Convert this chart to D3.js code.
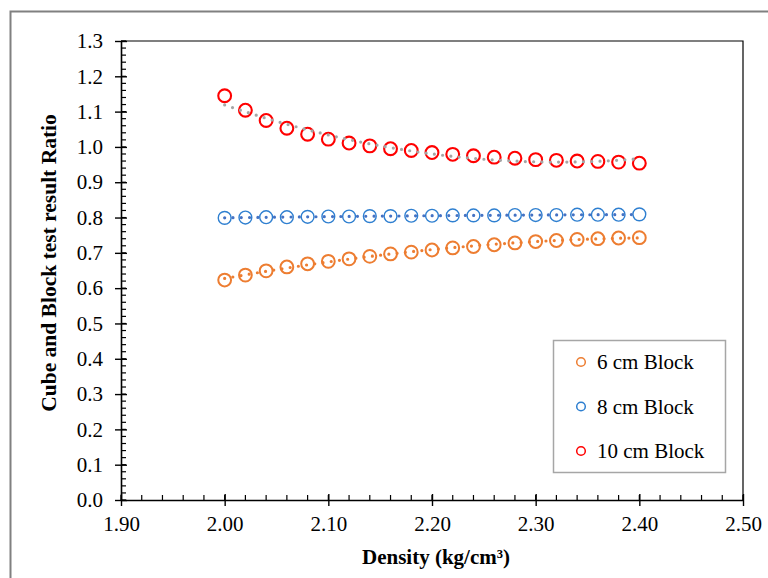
<!DOCTYPE html>
<html>
<head>
<meta charset="utf-8">
<script src="https://cdn.jsdelivr.net/npm/d3@7"></script>
<style>
  body { margin: 0; background: #fff; }
  svg { display: block; font-family: "Liberation Serif", "Times New Roman", serif; }
</style>
</head>
<body>
<div id="chart"></div>
<script>
// data
var density = [2.00, 2.02, 2.04, 2.06, 2.08, 2.10, 2.12, 2.14, 2.16, 2.18, 2.20,
               2.22, 2.24, 2.26, 2.28, 2.30, 2.32, 2.34, 2.36, 2.38, 2.40];
var block6 = [0.623, 0.637, 0.649, 0.660, 0.669, 0.676, 0.683, 0.690, 0.697, 0.702, 0.708,
              0.714, 0.718, 0.723, 0.728, 0.732, 0.735, 0.738, 0.740, 0.742, 0.743];
var block8 = [0.799, 0.800, 0.801, 0.801, 0.802, 0.803, 0.803, 0.804, 0.804, 0.805, 0.805,
              0.806, 0.806, 0.806, 0.807, 0.807, 0.807, 0.808, 0.808, 0.808, 0.809];
var block10 = [1.145, 1.104, 1.075, 1.053, 1.036, 1.022, 1.011, 1.003, 0.995, 0.990, 0.984,
               0.979, 0.975, 0.971, 0.968, 0.964, 0.962, 0.960, 0.959, 0.957, 0.954];
var seriesNames = ["6 cm Block", "8 cm Block", "10 cm Block"];
var xTicks = [1.90, 2.00, 2.10, 2.20, 2.30, 2.40, 2.50];
var yTicks = [0.0, 0.1, 0.2, 0.3, 0.4, 0.5, 0.6, 0.7, 0.8, 0.9, 1.0, 1.1, 1.2, 1.3];

var series = [
  {name: seriesNames[0], values: block6, color: "#ED7D31", trend: "#ED7D31", sw: 2},
  {name: seriesNames[1], values: block8, color: "#2E7FD0", trend: "#4472C4", sw: 1.4},
  {name: seriesNames[2], values: block10, color: "#FF0000", trend: "#A5A5A5", sw: 2.1}
];

var width = 768, height = 578;
var margin = {top: 41, right: 25, bottom: 78, left: 121};

var svg = d3.select("#chart").append("svg")
    .attr("width", width)
    .attr("height", height);

// outer chart frame
svg.append("rect")
    .attr("x", 10.5).attr("y", 11.5)
    .attr("width", 800).attr("height", 700)
    .attr("fill", "none")
    .attr("stroke", "#808080")
    .attr("stroke-width", 2);

var x = d3.scaleLinear().domain([1.9, 2.5]).range([margin.left, width - margin.right]);
var y = d3.scaleLinear().domain([0, 1.3]).range([height - margin.bottom, margin.top]);

var x0 = x(1.9), x1 = x(2.5), y0 = y(0), y1 = y(1.3);

// top and right border of the plot
svg.append("path")
    .attr("d", "M" + x0 + "," + y1 + "H" + x1 + "V" + y0)
    .attr("fill", "none")
    .attr("stroke", "#000")
    .attr("stroke-width", 1.2);

// minor ticks
var xMinor = d3.range(1.90, 2.5001, 0.02);
var yMinor = d3.range(0, 1.3001, 0.02);

svg.append("g").selectAll("line")
    .data(xMinor)
    .enter().append("line")
    .attr("x1", function(d) { return x(d); })
    .attr("x2", function(d) { return x(d); })
    .attr("y1", y0).attr("y2", y0 - 5)
    .attr("stroke", "#000").attr("stroke-width", 1.2);

svg.append("g").selectAll("line")
    .data(yMinor)
    .enter().append("line")
    .attr("x1", x0).attr("x2", x0 + 5)
    .attr("y1", function(d) { return y(d); })
    .attr("y2", function(d) { return y(d); })
    .attr("stroke", "#000").attr("stroke-width", 1.2);

// axes with crossing major ticks
var xAxis = svg.append("g")
    .attr("transform", "translate(0," + y0 + ")")
    .call(d3.axisBottom(x).tickValues(xTicks).tickSize(6).tickSizeOuter(0)
          .tickFormat(d3.format(".2f")));
var yAxis = svg.append("g")
    .attr("transform", "translate(" + x0 + ",0)")
    .call(d3.axisLeft(y).tickValues(yTicks).tickSize(6).tickSizeOuter(0)
          .tickFormat(d3.format(".1f")));

[xAxis, yAxis].forEach(function(ax) {
  ax.select(".domain").attr("stroke", "#000").attr("stroke-width", 1.6);
  ax.selectAll(".tick line").attr("stroke", "#000").attr("stroke-width", 1.4);
  ax.selectAll("text")
      .attr("fill", "#000")
      .style("font-family", "'Liberation Serif', serif")
      .style("font-size", "21px");
});
xAxis.selectAll(".tick line").attr("y1", -6);
xAxis.selectAll(".tick text").attr("y", 16);
yAxis.selectAll(".tick line").attr("x1", 6);
yAxis.selectAll(".tick text").attr("x", -18);

// axis titles
svg.append("text")
    .attr("x", 436).attr("y", 564)
    .attr("text-anchor", "middle")
    .style("font-size", "21px").style("font-weight", "bold")
    .text("Density (kg/cm³)");

svg.append("text")
    .attr("transform", "translate(56,263) rotate(-90)")
    .attr("text-anchor", "middle")
    .style("font-size", "21.5px").style("font-weight", "bold")
    .text("Cube and Block test result Ratio");

// polynomial (order 2) trendline, least squares like the spreadsheet does
function quadFit(xs, ys) {
  var n = xs.length, xm = d3.mean(xs);
  var s = [0, 0, 0, 0, 0], t = [0, 0, 0];
  for (var i = 0; i < n; i++) {
    var u = xs[i] - xm;
    for (var k = 0; k < 5; k++) s[k] += Math.pow(u, k);
    for (var k2 = 0; k2 < 3; k2++) t[k2] += ys[i] * Math.pow(u, k2);
  }
  var A = [[s[0], s[1], s[2], t[0]], [s[1], s[2], s[3], t[1]], [s[2], s[3], s[4], t[2]]];
  for (var c = 0; c < 3; c++) {
    for (var r = c + 1; r < 3; r++) {
      var f = A[r][c] / A[c][c];
      for (var j = c; j < 4; j++) A[r][j] -= f * A[c][j];
    }
  }
  var b = [0, 0, 0];
  for (var r2 = 2; r2 >= 0; r2--) {
    var v = A[r2][3];
    for (var j2 = r2 + 1; j2 < 3; j2++) v -= A[r2][j2] * b[j2];
    b[r2] = v / A[r2][r2];
  }
  return function(xv) { var u = xv - xm; return b[0] + b[1] * u + b[2] * u * u; };
}

var line = d3.line()
    .x(function(d) { return x(d[0]); })
    .y(function(d) { return y(d[1]); });

// markers
series.forEach(function(s) {
  svg.append("g").selectAll("circle")
      .data(s.values)
      .enter().append("circle")
      .attr("cx", function(d, i) { return x(density[i]); })
      .attr("cy", function(d) { return y(d); })
      .attr("r", 6.4)
      .attr("fill", "none")
      .attr("stroke", s.color)
      .attr("stroke-width", s.sw);
});

// trendlines drawn above markers
series.forEach(function(s) {
  var fit = quadFit(density, s.values);
  var pts = d3.range(0, 81).map(function(i) {
    var xv = 2.0 + i * 0.005;
    return [xv, fit(xv)];
  });
  svg.append("path")
      .datum(pts)
      .attr("d", line)
      .attr("fill", "none")
      .attr("stroke", s.trend)
      .attr("stroke-width", 3.2)
      .attr("stroke-linecap", "round")
      .attr("stroke-dasharray", "0,8.3");
});

// legend
var legend = svg.append("g");
legend.append("rect")
    .attr("x", 553.5).attr("y", 340.5)
    .attr("width", 172).attr("height", 132)
    .attr("fill", "#fff")
    .attr("stroke", "#A6A6A6")
    .attr("stroke-width", 1.5);

var item = legend.selectAll("g.item")
    .data(series)
    .enter().append("g")
    .attr("class", "item")
    .attr("transform", function(d, i) { return "translate(0," + (362 + i * 44.5) + ")"; });

item.append("circle")
    .attr("cx", 581).attr("cy", 0)
    .attr("r", 4.3)
    .attr("fill", "none")
    .attr("stroke", function(d) { return d.color; })
    .attr("stroke-width", 1.5);

item.append("text")
    .attr("x", 597).attr("y", 7)
    .style("font-size", "21px")
    .text(function(d) { return d.name; });
</script>
</body>
</html>
